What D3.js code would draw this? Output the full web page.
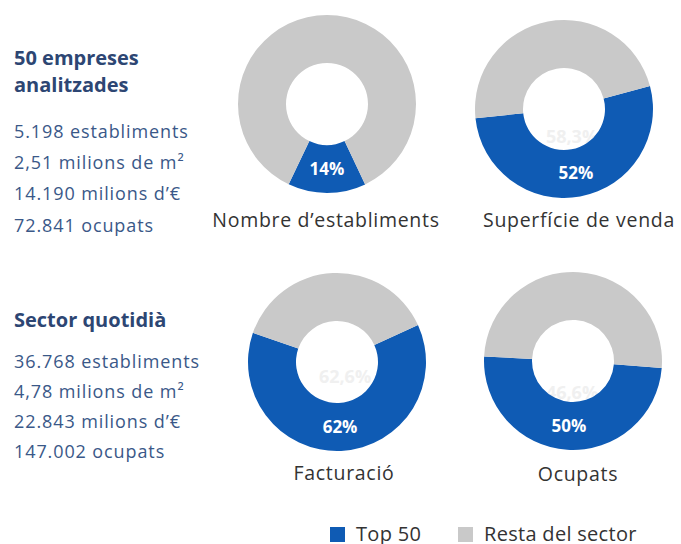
<!DOCTYPE html>
<html>
<head>
<meta charset="utf-8">
<script src="https://cdn.jsdelivr.net/npm/d3@7"></script>
<style>
  body { margin: 0; background: #fff; }
  svg text { font-family: "Open Sans", sans-serif; }
</style>
</head>
<body>
<div id="chart"></div>
<script>
// Data
const categories = ["Nombre d\u2019establiments", "Superfície de venda", "Facturació", "Ocupats"];
const top50Values = [5198, 2.51, 14190, 72841];
const sectorValues = [36768, 4.78, 22843, 147002];
const pctLabels = ["14%", "52%", "62%", "50%"];
const ghostLabels = ["", "58,3%", "62,6%", "46,6%"];
const legendLabels = ["Top 50", "Resta del sector"];

const top50Lines = ["5.198 establiments", "2,51 milions de m\u00B2", "14.190 milions d\u2019\u20AC", "72.841 ocupats"];
const sectorLines = ["36.768 establiments", "4,78 milions de m\u00B2", "22.843 milions d\u2019\u20AC", "147.002 ocupats"];

function init() {
  const width = 681, height = 544;
  const blue = "#0f5bb4", grey = "#c9c9c9";
  const color = d3.scaleOrdinal().domain(legendLabels).range([blue, grey]);

  const svg = d3.select("#chart")
    .append("svg")
    .attr("width", width)
    .attr("height", height);

  // Left text blocks
  const textColor = "#3a5888", headColor = "#2d4673";
  function block(titleY, title, linesY, step, lines) {
    const g = svg.append("g");
    title.forEach((t, i) => {
      g.append("text").attr("x", 14).attr("y", titleY + i * 27)
        .text(t).style("font-size", "20px").style("font-weight", "bold")
        .style("fill", headColor);
    });
    lines.forEach((t, i) => {
      g.append("text").attr("x", 14).attr("y", linesY + i * step)
        .text(t).style("font-size", "18px").style("letter-spacing", "0.9px")
        .style("fill", textColor);
    });
  }
  block(65, ["50 empreses", "analitzades"], 138, 31.2, top50Lines);
  block(327, ["Sector quotidià"], 368, 30, sectorLines);

  // Donut layout (centers, radii, rotation of first slice)
  const centers = [[327, 104], [564, 109], [337, 362], [573, 361]];
  const rotation = [154.6, 75, 65.5, 94.5];
  const ghostOffset = [[0, 0], [8, 28], [8, 15], [-1, 32]];
  const labelX = [326, 579, 344, 578];
  const labelY = [227, 227, 480, 481];
  const outerR = 89, innerR = 41;

  const arc = d3.arc().innerRadius(innerR).outerRadius(outerR);
  const labelArc = d3.arc().innerRadius(65).outerRadius(65);

  categories.forEach((cat, i) => {
    const rot = rotation[i] * Math.PI / 180;
    const pie = d3.pie().sort(null).value(d => d.v)
      .startAngle(rot).endAngle(rot + 2 * Math.PI);
    const data = [
      { k: legendLabels[0], v: top50Values[i] },
      { k: legendLabels[1], v: sectorValues[i] - top50Values[i] }
    ];
    const g = svg.append("g")
      .attr("transform", `translate(${centers[i][0]},${centers[i][1]})`);

    // faint leftover label under the ring
    g.append("text")
      .attr("x", ghostOffset[i][0]).attr("y", ghostOffset[i][1])
      .attr("text-anchor", "middle").attr("dy", "0.35em")
      .text(ghostLabels[i])
      .style("font-size", "18px").style("font-weight", "bold")
      .style("fill", "#f0f0f0");

    const arcs = pie(data);
    g.selectAll("path")
      .data(arcs)
      .enter()
      .append("path")
      .attr("d", arc)
      .style("fill", d => color(d.data.k));

    const c = labelArc.centroid(arcs[0]);
    g.append("text")
      .attr("x", c[0]).attr("y", c[1])
      .attr("text-anchor", "middle").attr("dy", "0.35em")
      .text(pctLabels[i])
      .style("font-size", "17px").style("font-weight", "bold")
      .style("fill", "#fff");

    svg.append("text")
      .attr("x", labelX[i])
      .attr("y", labelY[i])
      .attr("text-anchor", "middle")
      .text(cat)
      .style("font-size", "19.5px").style("letter-spacing", "0.7px")
      .style("fill", "#333");
  });

  // Legend
  const legendX = [330, 458];
  legendLabels.forEach((l, i) => {
    svg.append("rect").attr("x", legendX[i]).attr("y", 527)
      .attr("width", 15).attr("height", 15).style("fill", color(l));
    svg.append("text").attr("x", legendX[i] + 26).attr("y", 541)
      .text(l).style("font-size", "20px").style("letter-spacing", "0.3px")
      .style("fill", "#333");
  });
}

window.onload = init;
</script>
</body>
</html>
